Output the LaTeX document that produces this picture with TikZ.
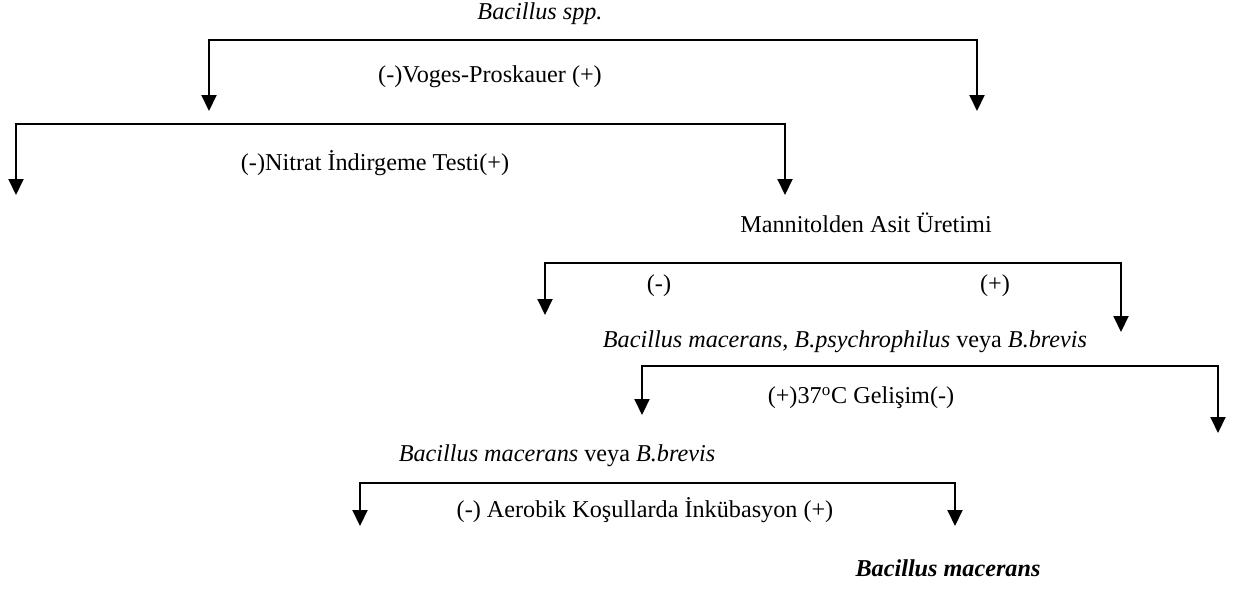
\documentclass[tikz,border=0pt]{standalone}
\usepackage{fontspec}
\setmainfont{Liberation Serif}
\usetikzlibrary{arrows.meta}
\usetikzlibrary{positioning}

\begin{document}
\begin{tikzpicture}[x=0.5pt, y=-0.5pt,
				label/.style={inner sep=0pt, font=\fontsize{12.1}{14.5}\selectfont},
				branch/.style={draw, line width=1pt, {Triangle[width=7.5pt, length=8pt]}-{Triangle[width=7.5pt, length=8pt]}}]
				\useasboundingbox (0, 0) rectangle (1243, 590);
				% labels
				\node[label](root) at (540, 14) {\textit{Bacillus spp.}};
				\node[label](vp) at (490, 77) {(-)Voges-Proskauer (+)};
				\node[label](nitrat) at (375, 163) {(-)Nitrat İndirgeme Testi(+)};
				\node[label](mannit) at (866, 223) {Mannitolden Asit Üretimi};
				\node[label](mneg) at (659, 286) {(-)};
				\node[label](mpos) at (995, 286) {(+)};
				\node[label](mpb) at (845, 342) {\textit{Bacillus macerans}, \textit{B.psychrophilus} veya \textit{B.brevis}};
				\node[label](gelisim) at (861, 398) {(+)37\textsuperscript{o}C Gelişim(-)};
				\node[label](mb) at (557, 456) {\textit{Bacillus macerans} veya \textit{B.brevis}};
				\node[label](aerob) at (645, 510) {(-) Aerobik Koşullarda İnkübasyon (+)};
				\node[label](macerans) at (948, 568) {\textbf{\textit{Bacillus macerans}}};
				
				% branch corners and ends
				\coordinate (a1) at (209, 111); \coordinate (a2) at (209, 40);
				\coordinate (a3) at (977, 40); \coordinate (a4) at (977, 111);
				\coordinate (b1) at (16, 195); \coordinate (b2) at (16, 124);
				\coordinate (b3) at (785, 124); \coordinate (b4) at (785, 195);
				\coordinate (c1) at (545, 315); \coordinate (c2) at (545, 263);
				\coordinate (c3) at (1121, 263); \coordinate (c4) at (1121, 332);
				\coordinate (d1) at (642, 415); \coordinate (d2) at (642, 366);
				\coordinate (d3) at (1218, 366); \coordinate (d4) at (1218, 433);
				\coordinate (e1) at (360, 526); \coordinate (e2) at (360, 483);
				\coordinate (e3) at (955, 483); \coordinate (e4) at (955, 526);
				
				\draw[branch] (a1) -- (a2) -- (a3) -- (a4);
				\draw[branch] (b1) -- (b2) -- (b3) -- (b4);
				\draw[branch] (c1) -- (c2) -- (c3) -- (c4);
				\draw[branch] (d1) -- (d2) -- (d3) -- (d4);
				\draw[branch] (e1) -- (e2) -- (e3) -- (e4);
			\end{tikzpicture}
\end{document}
